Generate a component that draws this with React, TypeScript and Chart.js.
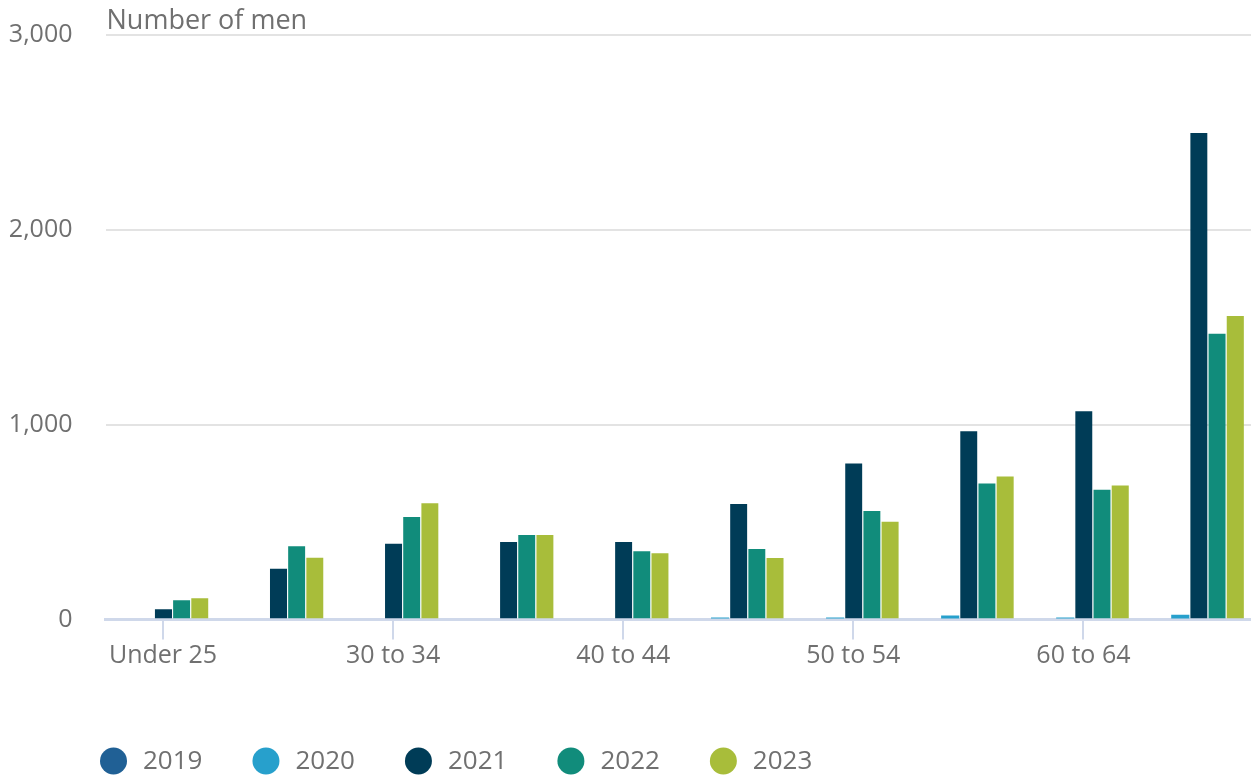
import React, { useEffect, useRef } from "react";
import { Chart, registerables } from "chart.js";

Chart.register(...registerables);

const categories = [
  "Under 25",
  "25 to 29",
  "30 to 34",
  "35 to 39",
  "40 to 44",
  "45 to 49",
  "50 to 54",
  "55 to 59",
  "60 to 64",
  "65 and over",
];

const seriesNames = ["2019", "2020", "2021", "2022", "2023"];

const values2019 = [0, 0, 0, 0, 0, 0, 0, 0, 0, 0];
const values2020 = [0, 0, 0, 0, 0, 10, 10, 20, 10, 24];
const values2021 = [58, 265, 393, 403, 403, 598, 805, 970, 1073, 2500];
const values2022 = [104, 381, 531, 439, 355, 367, 562, 702, 671, 1470];
const values2023 = [114, 322, 601, 439, 345, 321, 506, 738, 692, 1561];

const seriesColors = ["#206095", "#27a0cc", "#003c57", "#118c7b", "#a8bd3a"];

const yTicks = [0, 1000, 2000, 3000];
const yTitle = "Number of men";

const TEXT = "#707070";
const FONT = '"Open Sans", "Noto Sans", sans-serif';

const titlePlugin = {
  id: "yTitle",
  afterDraw(chart: any) {
    const ctx = chart.ctx;
    ctx.save();
    ctx.font = `27px ${FONT}`;
    ctx.fillStyle = TEXT;
    ctx.textAlign = "left";
    ctx.textBaseline = "alphabetic";
    ctx.fillText(yTitle, chart.chartArea.left + 1, 29);
    ctx.restore();
  },
};

const legendPlugin = {
  id: "customLegend",
  afterDraw(chart: any) {
    const ctx = chart.ctx;
    ctx.save();
    ctx.font = `26px ${FONT}`;
    ctx.textBaseline = "middle";
    ctx.textAlign = "left";
    let x = 100;
    const cy = 761;
    chart.data.datasets.forEach((ds: any) => {
      ctx.fillStyle = ds.backgroundColor;
      ctx.beginPath();
      ctx.arc(x + 13.5, cy, 13.5, 0, Math.PI * 2);
      ctx.fill();
      ctx.fillStyle = TEXT;
      ctx.fillText(ds.label, x + 43, cy + 1);
      x += 43 + ctx.measureText(ds.label).width + 50;
    });
    ctx.restore();
  },
};

export default function App() {
  const canvasRef = useRef<HTMLCanvasElement | null>(null);

  useEffect(() => {
    if (!canvasRef.current) return;
    const allValues = [values2019, values2020, values2021, values2022, values2023];
    const chart = new Chart(canvasRef.current, {
      type: "bar",
      data: {
        labels: categories,
        datasets: seriesNames.map((name, i) => ({
          label: name,
          data: allValues[i],
          backgroundColor: seriesColors[i],
          borderColor: "rgba(255,255,255,0.28)",
          borderWidth: i === 1 ? 0 : { top: 1, left: 1, right: 0, bottom: 0 },
          borderSkipped: false,
          categoryPercentage: 0.79,
          barPercentage: 1,
        })),
      },
      options: {
        responsive: false,
        animation: false,
        devicePixelRatio: 1,
        layout: { padding: { top: 34.5, bottom: 98.5, left: 0, right: 0 } },
        plugins: {
          legend: { display: false },
          tooltip: { enabled: false },
          title: { display: false },
        },
        scales: {
          x: {
            afterFit: (scale: any) => {
              scale.height = 60;
            },
            grid: {
              display: true,
              drawOnChartArea: false,
              drawTicks: true,
              offset: false,
              tickLength: 20,
              lineWidth: 2,
              tickColor: (ctx: any) => (ctx.index % 2 === 0 ? "#cfd8ea" : "rgba(0,0,0,0)"),
              color: "rgba(0,0,0,0)",
            },
            border: { display: true, color: "#cfd8ea", width: 3 },
            ticks: {
              autoSkip: false,
              maxRotation: 0,
              minRotation: 0,
              padding: 1,
              color: TEXT,
              font: { family: FONT, size: 25 },
              callback: (_v: any, i: number) => (i % 2 === 0 ? categories[i] : ""),
            },
          },
          y: {
            min: yTicks[0],
            max: yTicks[yTicks.length - 1],
            afterFit: (scale: any) => {
              scale.width = 105.5;
            },
            afterBuildTicks: (scale: any) => {
              scale.ticks = yTicks.map((v) => ({ value: v }));
            },
            grid: {
              drawTicks: true,
              tickLength: 30,
              tickColor: "rgba(0,0,0,0)",
              lineWidth: 2,
              color: (ctx: any) => (ctx.tick && ctx.tick.value === 0 ? "rgba(0,0,0,0)" : "#e3e3e3"),
            },
            border: { display: false },
            ticks: {
              padding: 3,
              color: TEXT,
              font: { family: FONT, size: 25 },
              callback: (v: any) => Number(v).toLocaleString("en-GB"),
            },
          },
        },
      },
      plugins: [titlePlugin, legendPlugin],
    });
    return () => chart.destroy();
  }, []);

  return (
    <div
      style={{
        position: "fixed",
        left: 0,
        top: 0,
        width: 1251,
        height: 778,
        overflow: "hidden",
        background: "#ffffff",
      }}
    >
      <canvas
        ref={canvasRef}
        width={1256}
        height={778}
        style={{ position: "absolute", left: 0, top: 0, display: "block" }}
      />
    </div>
  );
}
